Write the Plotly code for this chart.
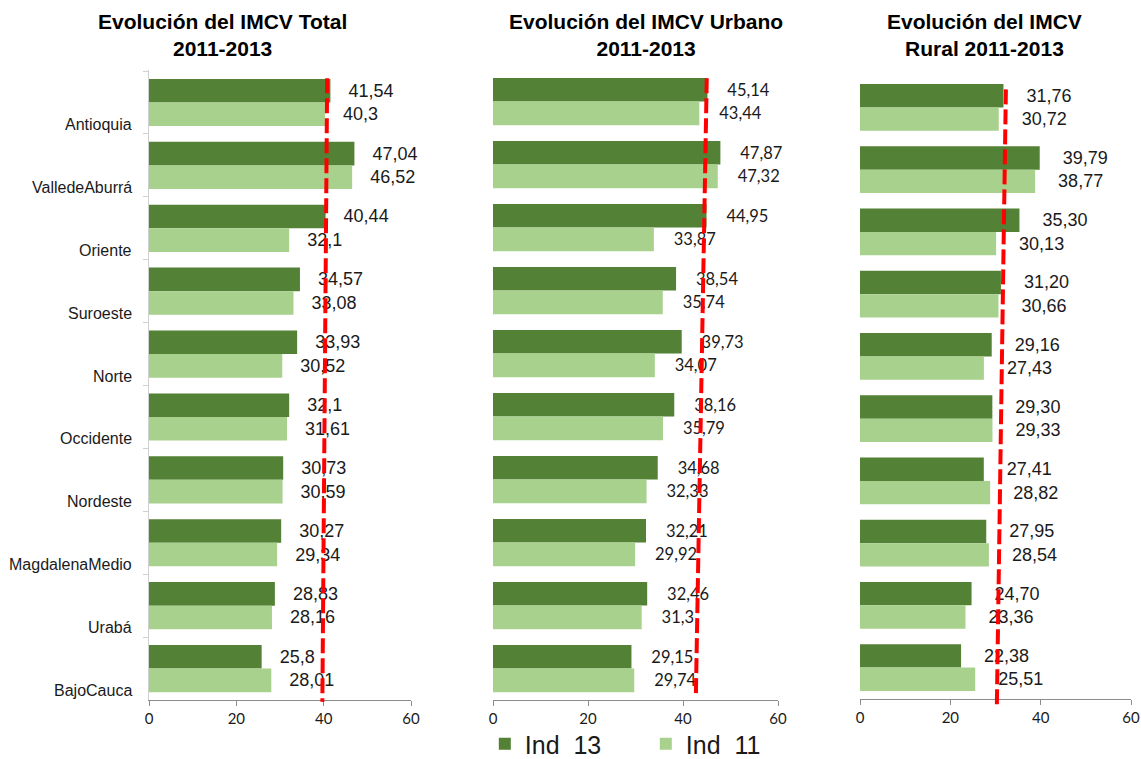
import plotly.graph_objects as go
from plotly.subplots import make_subplots

regions = ["Antioquia", "ValledeAburrá", "Oriente", "Suroeste", "Norte",
           "Occidente", "Nordeste", "MagdalenaMedio", "Urabá", "BajoCauca"]

total_13 = [41.54, 47.04, 40.44, 34.57, 33.93, 32.1, 30.73, 30.27, 28.83, 25.8]
total_11 = [40.3, 46.52, 32.1, 33.08, 30.52, 31.61, 30.59, 29.34, 28.16, 28.01]

urbano_13 = [45.14, 47.87, 44.95, 38.54, 39.73, 38.16, 34.68, 32.21, 32.46, 29.15]
urbano_11 = [43.44, 47.32, 33.87, 35.74, 34.07, 35.79, 32.33, 29.92, 31.3, 29.74]

rural_13 = [31.76, 39.79, 35.30, 31.20, 29.16, 29.30, 27.41, 27.95, 24.70, 22.38]
rural_11 = [30.72, 38.77, 30.13, 30.66, 27.43, 29.33, 28.82, 28.54, 23.36, 25.51]

# red dashed reference line (value at top, value at bottom), as drawn
ref_total = [40.8, 39.7]
ref_urbano = [45.0, 42.7]
ref_rural = [32.3, 30.3]

titles = ["Evolución del IMCV Total<br>2011-2013",
          "Evolución del IMCV Urbano<br>2011-2013",
          "Evolución del IMCV<br>Rural 2011-2013"]
x_ticks = [0, 20, 40, 60]

DARK = "#538135"
LIGHT = "#A9D18E"
ARIAL = "Liberation Sans, Arial, sans-serif"
CALIBRI = "Lato, Carlito, sans-serif"
NB = "\u00a0"


def fmt_plain(v):
    return f"{v:g}".replace(".", ",")


def fmt_2d(v):
    return f"{v:.2f}".replace(".", ",")


panels = [
    dict(v13=total_13, v11=total_11, ref=ref_total, fmt=fmt_plain, font=ARIAL, size=18, pad=3,
         xdom=[149 / 1141, 411 / 1141], ydom=[0, 1], ref_y=[0.987, -0.003], title_x=222 / 1141),
    dict(v13=urbano_13, v11=urbano_11, ref=ref_urbano, fmt=fmt_plain, font=CALIBRI, size=16.5, pad=4,
         xdom=[493 / 1141, 778 / 1141], ydom=[0, 1], ref_y=[0.987, 0.003], title_x=646 / 1141),
    dict(v13=rural_13, v11=rural_11, ref=ref_rural, fmt=fmt_2d, font=ARIAL, size=18, pad=4,
         xdom=[860 / 1141, 1131 / 1141], ydom=[0.002, 0.99], ref_y=[0.979, -0.011], title_x=984 / 1141),
]

fig = make_subplots(rows=1, cols=3)

for i, p in enumerate(panels):
    col = i + 1
    for name, vals, color in [("Ind" + NB + " 13", p["v13"], DARK), ("Ind" + NB + " 11", p["v11"], LIGHT)]:
        fig.add_trace(
            go.Bar(
                y=regions,
                x=vals,
                orientation="h",
                name=name,
                legendgroup=name,
                showlegend=(i == 0),
                marker=dict(color=color, line=dict(width=0)),
                text=[NB * p["pad"] + p["fmt"](v) for v in vals],
                textposition="outside",
                constraintext="none",
                cliponaxis=False,
                textfont=dict(family=p["font"], size=p["size"], color="#1a1a1a"),
                hoverinfo="x+y",
            ),
            row=1, col=col,
        )
    xa = "xaxis" if i == 0 else f"xaxis{col}"
    ya = "yaxis" if i == 0 else f"yaxis{col}"
    fig.layout[xa].update(
        domain=p["xdom"], range=[0, 60], tickvals=x_ticks, showgrid=False, zeroline=False,
        showline=True, linecolor="#8c8c8c", linewidth=1, ticks="outside", ticklen=5,
        tickcolor="#8c8c8c", tickfont=dict(family=CALIBRI, size=15, color="#1a1a1a"),
    )
    fig.layout[ya].update(
        domain=p["ydom"], categoryorder="array", categoryarray=regions, autorange="reversed",
        showticklabels=False, showgrid=False, zeroline=False,
        showline=(i == 0), linecolor="#d0d0d0", linewidth=1,
        ticks="outside" if i == 0 else "", tickson="boundaries", ticklen=5, tickcolor="#d0d0d0",
    )
    xref = "x" if i == 0 else f"x{col}"
    yref = "y" if i == 0 else f"y{col}"
    fig.add_shape(
        type="line", xref=xref, yref=f"{yref} domain",
        x0=p["ref"][0], y0=p["ref_y"][0], x1=p["ref"][1], y1=p["ref_y"][1],
        line=dict(color="#FF0000", width=4, dash="15px,5px"),
    )
    fig.add_annotation(
        text="<b>" + titles[i] + "</b>", xref="paper", yref="paper",
        x=p["title_x"], y=(700 - 35) / 630, xanchor="center", yanchor="middle",
        showarrow=False, font=dict(family=ARIAL, size=21, color="#000000"),
    )

for r in regions:
    fig.add_annotation(
        text=r, xref="x domain", yref="y", x=0, y=r, xanchor="right", yanchor="middle",
        xshift=-15, yshift=-22, showarrow=False,
        font=dict(family=ARIAL, size=16, color="#1a1a1a"),
    )

fig.update_layout(
    width=1141,
    height=759,
    barmode="group",
    bargap=0.25,
    bargroupgap=0,
    plot_bgcolor="white",
    paper_bgcolor="white",
    margin=dict(l=0, r=0, t=70, b=59, autoexpand=False),
    legend=dict(
        orientation="h", x=0.566, xanchor="center", y=-0.07, yanchor="middle",
        font=dict(family=ARIAL, size=25, color="#1a1a1a"),
        bgcolor="rgba(0,0,0,0)",
        itemwidth=30, entrywidth=116, traceorder="normal",
    ),
)

fig.write_html("out.html", config={"displayModeBar": False},
               post_script="document.body.style.margin='0';")
